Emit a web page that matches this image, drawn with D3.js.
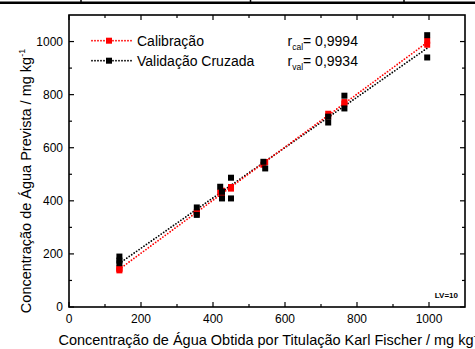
<!DOCTYPE html>
<html>
<head>
<meta charset="utf-8">
<script src="https://cdn.jsdelivr.net/npm/d3@7"></script>
<style>
  body { margin: 0; background: #fff; }
  svg { display: block; }
  text { font-family: "Liberation Sans", Arial, sans-serif; fill: #000; }
</style>
</head>
<body>
<div id="chart"></div>
<script>
// Reference water content (Karl Fischer), mg/kg
const kfValues = [140, 140, 140, 355, 355, 420, 425, 425, 450, 450, 540, 545, 720, 720, 765, 765, 995, 995];
// Predicted values - calibration (red) and cross validation (black)
const calPredicted = [143, 138, 146, 352, 358, 432, 438, 424, 446, 452, 536, 546, 728, 718, 772, 766, 1003, 988];
const valPredicted = [190, 175, 165, 375, 347, 453, 434, 409, 487, 409, 547, 522, 717, 695, 796, 748, 1024, 940];

const majorTicks = [0, 200, 400, 600, 800, 1000];
const minorTicks = [100, 300, 500, 700, 900];
const legendNames = ["Calibração", "Validação Cruzada"];
const rLabels = [["cal", "0,9994"], ["val", "0,9934"]];
const seriesColors = ["#ff0000", "#000000"];

const width = 475, height = 349;
const margin = { top: 15, right: 10, bottom: 42, left: 69 };

const svg = d3.select("#chart").append("svg")
    .attr("width", width)
    .attr("height", height);

const x = d3.scaleLinear().domain([0, 1100]).range([margin.left, width - margin.right]);
const y = d3.scaleLinear().domain([0, 1100]).range([height - margin.bottom, margin.top]);

// table border at the very top
svg.append("line")
    .attr("x1", 0).attr("x2", width).attr("y1", 2.8).attr("y2", 2.8)
    .attr("stroke", "#000").attr("stroke-width", 2.4);
[81, 250.5, 404].forEach(px => {
    svg.append("line")
        .attr("x1", px).attr("x2", px).attr("y1", 0).attr("y2", 3)
        .attr("stroke", "#000").attr("stroke-width", 1.5);
});

// least squares fit
function linFit(xs, ys) {
    const mx = d3.mean(xs), my = d3.mean(ys);
    let sxy = 0, sxx = 0;
    xs.forEach((v, i) => { sxy += (v - mx) * (ys[i] - my); sxx += (v - mx) * (v - mx); });
    const b = sxy / sxx;
    return { b, a: my - b * mx };
}

const xMin = d3.min(kfValues), xMax = d3.max(kfValues);
const series = [
    { values: valPredicted, color: seriesColors[1] },
    { values: calPredicted, color: seriesColors[0] }
];

// regression lines (dotted)
series.forEach(s => {
    const f = linFit(kfValues, s.values);
    svg.append("line")
        .attr("x1", x(xMin)).attr("y1", y(f.a + f.b * xMin))
        .attr("x2", x(xMax)).attr("y2", y(f.a + f.b * xMax))
        .attr("stroke", s.color)
        .attr("stroke-width", 1.8)
        .attr("stroke-linecap", "round")
        .attr("stroke-dasharray", "0,3");
});

// markers: red first, black on top
const ms = 6;
[series[1], series[0]].forEach(s => {
    svg.append("g").selectAll("rect")
        .data(kfValues.map((v, i) => [v, s.values[i]]))
        .join("rect")
        .attr("x", d => x(d[0]) - ms / 2)
        .attr("y", d => y(d[1]) - ms / 2)
        .attr("width", ms)
        .attr("height", ms)
        .attr("fill", s.color);
});

// frame
svg.append("rect")
    .attr("x", margin.left).attr("y", margin.top)
    .attr("width", width - margin.left - margin.right)
    .attr("height", height - margin.top - margin.bottom)
    .attr("fill", "none").attr("stroke", "#000").attr("stroke-width", 1.6);

// ticks on all four sides, pointing inward
const x0 = margin.left, x1 = width - margin.right;
const y0 = height - margin.bottom, y1 = margin.top;
const tickG = svg.append("g").attr("stroke", "#000").attr("stroke-width", 1.2);
[[majorTicks, 5], [minorTicks, 3]].forEach(([ticks, len]) => {
    ticks.forEach(t => {
        tickG.append("line").attr("x1", x(t)).attr("x2", x(t)).attr("y1", y0).attr("y2", y0 - len);
        tickG.append("line").attr("x1", x(t)).attr("x2", x(t)).attr("y1", y1).attr("y2", y1 + len);
        tickG.append("line").attr("y1", y(t)).attr("y2", y(t)).attr("x1", x0).attr("x2", x0 + len);
        tickG.append("line").attr("y1", y(t)).attr("y2", y(t)).attr("x1", x1).attr("x2", x1 - len);
    });
});

// tick labels
svg.append("g").selectAll("text")
    .data(majorTicks)
    .join("text")
    .attr("x", d => x(d))
    .attr("y", y0 + 15.5)
    .attr("text-anchor", "middle")
    .attr("font-size", 12)
    .text(d => d);

svg.append("g").selectAll("text")
    .data(majorTicks)
    .join("text")
    .attr("x", x0 - 6)
    .attr("y", d => y(d))
    .attr("dy", "0.35em")
    .attr("text-anchor", "end")
    .attr("font-size", 12)
    .text(d => d);

// axis titles
const xTitle = svg.append("text")
    .attr("x", (x0 + x1) / 2 + 3)
    .attr("y", 345)
    .attr("text-anchor", "middle")
    .attr("font-size", 14.5);
xTitle.append("tspan").text("Concentração de Água Obtida por Titulação Karl Fischer / mg kg");
xTitle.append("tspan").attr("font-size", 9).attr("dy", -6).text("-1");

const yTitle = svg.append("text")
    .attr("transform", "translate(30.5,181) rotate(-90)")
    .attr("text-anchor", "middle")
    .attr("font-size", 14.5);
yTitle.append("tspan").text("Concentração de Água Prevista / mg kg");
yTitle.append("tspan").attr("font-size", 9).attr("dy", -6).text("-1");

// legend
const legendRows = [40.7, 60.7];
legendNames.forEach((name, i) => {
    const cy = legendRows[i];
    const color = seriesColors[i];
    svg.append("line")
        .attr("x1", 92).attr("x2", 132).attr("y1", cy).attr("y2", cy)
        .attr("stroke", color).attr("stroke-width", 1.8)
        .attr("stroke-linecap", "round").attr("stroke-dasharray", "0,3");
    svg.append("rect")
        .attr("x", 109 - 3).attr("y", cy - 3).attr("width", 6).attr("height", 6)
        .attr("fill", color);
    svg.append("text")
        .attr("x", 137).attr("y", cy + 5)
        .attr("font-size", 14)
        .text(name);

    const r = svg.append("text")
        .attr("x", 287.5).attr("y", cy + 5)
        .attr("font-size", 14);
    r.append("tspan").text("r");
    r.append("tspan").attr("font-size", 8.5).attr("dy", 4).text(rLabels[i][0]);
    r.append("tspan").attr("dy", -4).text("= " + rLabels[i][1]);
});

svg.append("text")
    .attr("x", 458).attr("y", 298)
    .attr("text-anchor", "end")
    .attr("font-size", 8)
    .attr("font-weight", "bold")
    .text("LV=10");
</script>
</body>
</html>
